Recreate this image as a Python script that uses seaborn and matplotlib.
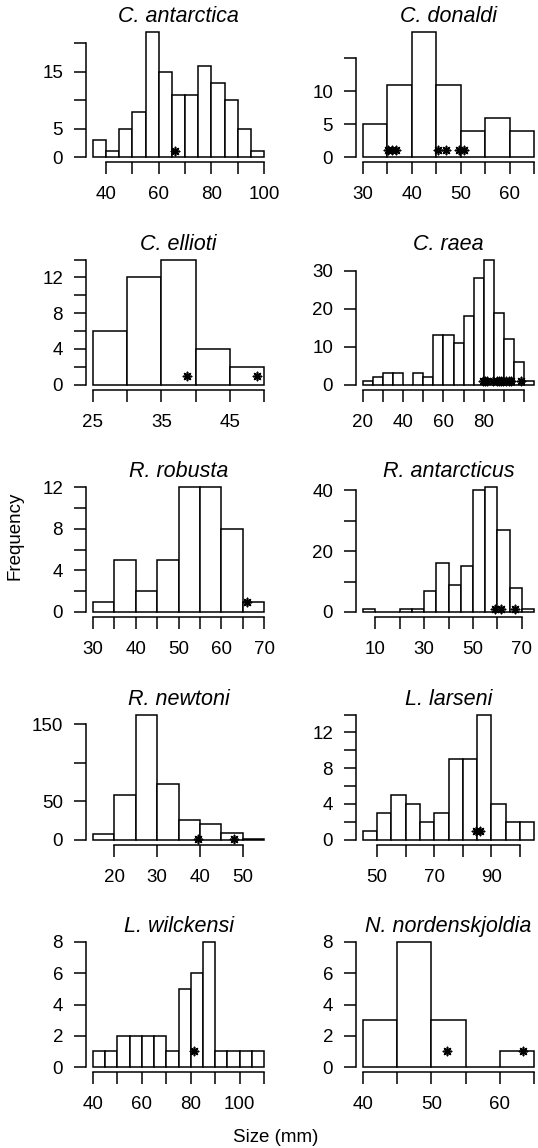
import numpy as np
import pandas as pd
import matplotlib
matplotlib.use('Agg')
import matplotlib.pyplot as plt
import seaborn as sns

# --- DATA ---
species = ['C. antarctica', 'C. donaldi', 'C. ellioti', 'C. raea', 'R. robusta',
           'R. antarcticus', 'R. newtoni', 'L. larseni', 'L. wilckensi', 'N. nordenskjoldia']

# bin edges (mm) and counts per species
edges_antarctica = [35, 40, 45, 50, 55, 60, 65, 70, 75, 80, 85, 90, 95, 100]
counts_antarctica = [3, 1, 5, 8, 22, 15, 11, 11, 16, 13, 10, 5, 1]
edges_donaldi = [30, 35, 40, 45, 50, 55, 60, 65]
counts_donaldi = [5, 11, 19, 11, 4, 6, 4]
edges_ellioti = [25, 30, 35, 40, 45, 50]
counts_ellioti = [6, 12, 14, 4, 2]
edges_raea = [20, 25, 30, 35, 40, 45, 50, 55, 60, 65, 70, 75, 80, 85, 90, 95, 100, 105]
counts_raea = [1, 2, 3, 3, 0, 3, 2, 13, 13, 11, 18, 28, 33, 19, 12, 6, 1]
edges_robusta = [30, 35, 40, 45, 50, 55, 60, 65, 70]
counts_robusta = [1, 5, 2, 5, 12, 12, 8, 1]
edges_antarcticus = [5, 10, 15, 20, 25, 30, 35, 40, 45, 50, 55, 60, 65, 70, 75]
counts_antarcticus = [1, 0, 0, 1, 1, 7, 16, 9, 15, 40, 41, 27, 8, 1]
edges_newtoni = [15, 20, 25, 30, 35, 40, 45, 50, 55]
counts_newtoni = [7, 58, 163, 73, 25, 20, 8, 1]
edges_larseni = [45, 50, 55, 60, 65, 70, 75, 80, 85, 90, 95, 100, 105]
counts_larseni = [1, 3, 5, 4, 2, 3, 9, 9, 14, 4, 2, 2]
edges_wilckensi = [40, 45, 50, 55, 60, 65, 70, 75, 80, 85, 90, 95, 100, 105, 110]
counts_wilckensi = [1, 1, 2, 2, 2, 2, 1, 5, 6, 8, 1, 1, 1, 1]
edges_nordenskjoldia = [40, 45, 50, 55, 60, 65]
counts_nordenskjoldia = [3, 8, 3, 0, 1]

# individual specimens marked with asterisks (size, mm)
marks_antarctica = [66]
marks_donaldi = [35.2, 36.0, 36.8, 45.3, 46.9, 49.6, 50.6]
marks_ellioti = [38.7, 48.9]
marks_raea = [79.8, 80.8, 81.8, 84.5, 86.5, 87.5, 88.5, 89.5, 91, 92.5, 93.5, 98.3]
marks_robusta = [66]
marks_antarcticus = [59.0, 61.5, 67.2]
marks_newtoni = [39.6, 47.9]
marks_larseni = [84.5, 85.9]
marks_wilckensi = [81.5]
marks_nordenskjoldia = [52.3, 63.3]

# axis ticks (all ticks, and the ones carrying a label)
yticks_all = [[0, 5, 10, 15, 20], [0, 5, 10, 15], [0, 2, 4, 6, 8, 10, 12, 14], [0, 10, 20, 30],
              [0, 2, 4, 6, 8, 10, 12], [0, 10, 20, 30, 40], [0, 50, 100, 150],
              [0, 2, 4, 6, 8, 10, 12, 14], [0, 2, 4, 6, 8], [0, 2, 4, 6, 8]]
yticks_lab = [[0, 5, 15], [0, 5, 10], [0, 4, 8, 12], [0, 10, 20, 30], [0, 4, 8, 12],
              [0, 20, 40], [0, 50, 150], [0, 4, 8, 12], [0, 2, 4, 6, 8], [0, 2, 4, 6, 8]]
xticks_all = [[40, 50, 60, 70, 80, 90, 100], [30, 35, 40, 45, 50, 55, 60, 65],
              [25, 30, 35, 40, 45, 50], [20, 30, 40, 50, 60, 70, 80, 90, 100],
              [30, 35, 40, 45, 50, 55, 60, 65, 70], [10, 20, 30, 40, 50, 60, 70],
              [20, 30, 40, 50], [50, 60, 70, 80, 90, 100],
              [40, 50, 60, 70, 80, 90, 100, 110], [40, 45, 50, 55, 60, 65]]
xticks_lab = [[40, 60, 80, 100], [30, 40, 50, 60], [25, 35, 45], [20, 40, 60, 80],
              [30, 40, 50, 60, 70], [10, 30, 50, 70], [20, 30, 40, 50], [50, 70, 90],
              [40, 60, 80, 100], [40, 50, 60]]

edges = [edges_antarctica, edges_donaldi, edges_ellioti, edges_raea, edges_robusta,
         edges_antarcticus, edges_newtoni, edges_larseni, edges_wilckensi, edges_nordenskjoldia]
counts = [counts_antarctica, counts_donaldi, counts_ellioti, counts_raea, counts_robusta,
          counts_antarcticus, counts_newtoni, counts_larseni, counts_wilckensi, counts_nordenskjoldia]
marks = [marks_antarctica, marks_donaldi, marks_ellioti, marks_raea, marks_robusta,
         marks_antarcticus, marks_newtoni, marks_larseni, marks_wilckensi, marks_nordenskjoldia]

# --- STYLE ---
sns.set_style('ticks')
plt.rcParams['font.family'] = ['Liberation Sans', 'DejaVu Sans']
plt.rcParams['text.color'] = 'black'
plt.rcParams['axes.labelcolor'] = 'black'
plt.rcParams['axes.titlecolor'] = 'black'
LW = 1.1

W, H = 538, 1148
fig = plt.figure(figsize=(W / 100, H / 100), dpi=100)

col_left = [86, 356]
row_bottom = [162, 389.5, 617, 844.5, 1072]
pw, ph = 185, 135


def fmt(v):
    return str(int(v))


for i, name in enumerate(species):
    r, c = divmod(i, 2)
    ax = fig.add_axes([col_left[c] / W, 1 - row_bottom[r] / H, pw / W, ph / H])

    e = edges[i]
    centers = [(a + b) / 2 for a, b in zip(e[:-1], e[1:])]
    df = pd.DataFrame({'size': centers, 'n': counts[i]})
    sns.histplot(data=df, x='size', weights='n', bins=list(e), ax=ax, color='white',
                 edgecolor='black', linewidth=LW, alpha=1)

    dm = pd.DataFrame({'size': marks[i], 'y': [1] * len(marks[i])})
    sns.scatterplot(data=dm, x='size', y='y', ax=ax, marker=(8, 2, 0), color='black',
                    edgecolor='black', s=34, linewidth=1.2, zorder=5)

    # R-style 4% padding around the data range
    xr = e[-1] - e[0]
    ymax = max(counts[i])
    ax.set_xlim(e[0] - 0.04 * xr, e[-1] + 0.04 * xr)
    ax.set_ylim(-0.04 * ymax, 1.04 * ymax)

    ax.set_xticks(xticks_all[i])
    ax.set_xticklabels([fmt(t) if t in xticks_lab[i] else '' for t in xticks_all[i]])
    ax.set_yticks(yticks_all[i])
    ax.set_yticklabels([fmt(t) if t in yticks_lab[i] else '' for t in yticks_all[i]])

    ax.spines['top'].set_visible(False)
    ax.spines['right'].set_visible(False)
    ax.spines['left'].set_bounds(yticks_all[i][0], yticks_all[i][-1])
    ax.spines['bottom'].set_bounds(xticks_all[i][0], xticks_all[i][-1])
    for s in ['left', 'bottom']:
        ax.spines[s].set_linewidth(LW)
        ax.spines[s].set_color('black')
    ax.tick_params(axis='both', length=8.5, width=LW, labelsize=13.5, color='black',
                   labelcolor='black')
    ax.tick_params(axis='x', pad=9)
    ax.tick_params(axis='y', pad=8)
    ax.set_xlabel('')
    ax.set_ylabel('')
    ax.set_title(name, fontsize=15.5, fontstyle='italic', pad=2, color='black')
    ax.patch.set_alpha(0)

fig.text(15 / W, 1 - 536 / H, 'Frequency', rotation=90, ha='center', va='center',
         fontsize=13.5, color='black')
fig.text(276 / W, 1 - 1138 / H, 'Size (mm)', ha='center', va='center',
         fontsize=13.5, color='black')

fig.savefig('out.png', dpi=100, facecolor='white')
